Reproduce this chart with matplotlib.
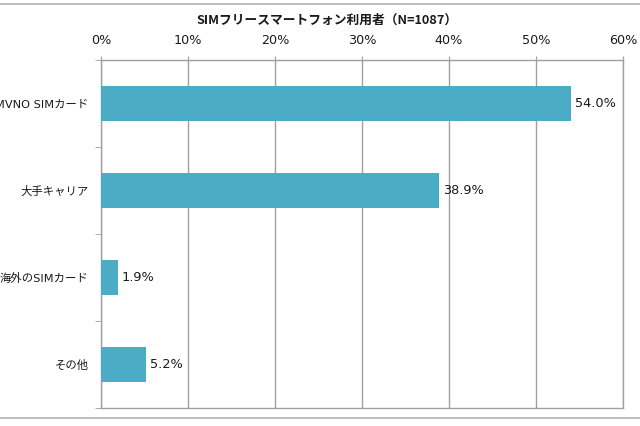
import matplotlib.pyplot as plt
from matplotlib.lines import Line2D
import numpy as np

plt.rcParams['font.family'] = ['DejaVu Sans', 'Noto Sans CJK JP']

categories = ['MVNO SIMカード', '大手キャリア', '海外のSIMカード', 'その他']
values = [54.0, 38.9, 1.9, 5.2]
xticks = [0, 10, 20, 30, 40, 50, 60]
title = 'SIMフリースマートフォン利用者（N=1087）'

bar_color = '#4BACC6'
grid_color = '#A0A0A0'
text_color = '#1a1a1a'

fig = plt.figure(figsize=(6.4, 4.26), dpi=100)
ax = fig.add_axes([101/640, 1-408/426, 522/640, 348/426])

y = np.arange(len(categories))
ax.barh(y, values, height=0.4, color=bar_color, zorder=3)
for yi, v in zip(y, values):
    ax.text(v + 0.45, yi, f'{v:.1f}%', va='center', ha='left', fontsize=9.3, color=text_color)

ax.set_xlim(0, 60)
ax.set_ylim(len(categories) - 0.5, -0.5)
ax.xaxis.tick_top()
ax.set_xticks(xticks)
ax.set_xticklabels([f'{t}%' for t in xticks], fontsize=9.2, color=text_color)
ax.tick_params(axis='x', length=3, color=grid_color, pad=6)
ax.xaxis.grid(True, color=grid_color, linewidth=1, zorder=0)

ax.set_yticks(y)
ax.set_yticklabels(categories, fontsize=8.2, color=text_color)
ax.set_yticks(np.arange(-0.5, len(categories), 1), minor=True)
ax.tick_params(axis='y', which='major', length=0, pad=9)
ax.tick_params(axis='y', which='minor', length=4, color=grid_color)

for s in ax.spines.values():
    s.set_color(grid_color)
    s.set_linewidth(1)

fig.text(327/640, 1-20/426, title, ha='center', va='center', fontsize=9.2,
         fontweight='bold', color=text_color, family=['Noto Sans CJK JP', 'DejaVu Sans'])

# outer chart frame lines
fig.add_artist(Line2D([0, 1], [1-4/426, 1-4/426], transform=fig.transFigure, color='#B0B0B0', linewidth=1.2))
fig.add_artist(Line2D([0, 1], [1-418/426, 1-418/426], transform=fig.transFigure, color='#B0B0B0', linewidth=1.2))

fig.savefig('out.png', dpi=100)
